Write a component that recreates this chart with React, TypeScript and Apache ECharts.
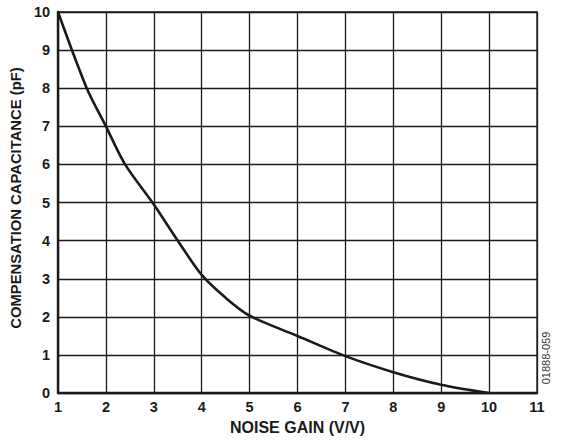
import React, { useEffect, useRef } from "react";
import * as echarts from "echarts";

const noiseGain = [1, 1.6, 2, 2.4, 3, 3.5, 4, 4.5, 5, 6, 7, 8, 9, 10];
const capacitance = [10, 8, 7, 6, 4.95, 4, 3.1, 2.5, 2.03, 1.5, 0.97, 0.55, 0.22, 0];
const xTitle = "NOISE GAIN (V/V)";
const yTitle = "COMPENSATION CAPACITANCE (pF)";
const figureId = "01888-059";

export default function App() {
  const ref = useRef<HTMLDivElement>(null);
  useEffect(() => {
    if (!ref.current) return;
    const chart = echarts.init(ref.current, null, { renderer: "svg" });
    const font = "'Liberation Sans', Arial, sans-serif";
    chart.setOption({
      animation: false,
      backgroundColor: "#ffffff",
      grid: { left: 57, top: 12, right: 24, bottom: 45, show: true, borderColor: "#1a1a1a", borderWidth: 1.3 },
      xAxis: {
        type: "value",
        min: 1,
        max: 11,
        interval: 1,
        name: xTitle,
        nameLocation: "middle",
        nameGap: 23,
        nameTextStyle: { fontFamily: font, fontWeight: "bold", fontSize: 16, color: "#1a1a1a" },
        axisLine: { show: true, lineStyle: { color: "#1a1a1a", width: 2.4 } },
        axisTick: { show: false },
        axisLabel: { fontFamily: font, fontWeight: "bold", fontSize: 14.5, color: "#1a1a1a", margin: 6 },
        splitLine: { show: true, lineStyle: { color: "#1a1a1a", width: 1.3 } },
      },
      yAxis: {
        type: "value",
        min: 0,
        max: 10,
        interval: 1,
        name: yTitle,
        nameLocation: "middle",
        nameGap: 31,
        nameTextStyle: { fontFamily: font, fontWeight: "bold", fontSize: 14.8, color: "#1a1a1a", padding: [0, 0, 0, 9] },
        axisLine: { show: true, lineStyle: { color: "#1a1a1a", width: 2.4 } },
        axisTick: { show: false },
        axisLabel: { fontFamily: font, fontWeight: "bold", fontSize: 14.5, color: "#1a1a1a", margin: 8 },
        splitLine: { show: true, lineStyle: { color: "#1a1a1a", width: 1.3 } },
      },
      graphic: [
        {
          type: "text",
          x: 546,
          y: 358,
          rotation: Math.PI / 2,
          style: {
            text: figureId,
            fontFamily: font,
            fontSize: 11,
            fill: "#333333",
            align: "center",
            verticalAlign: "middle",
          },
        },
      ],
      series: [
        {
          type: "line",
          data: noiseGain.map((x, i) => [x, capacitance[i]]),
          smooth: 0.3,
          showSymbol: false,
          lineStyle: { color: "#1a1a1a", width: 2.6 },
        },
      ],
    });
    return () => chart.dispose();
  }, []);
  return (
    <div
      ref={ref}
      style={{ position: "fixed", left: 0, top: 0, width: 561, height: 440 }}
    />
  );
}
